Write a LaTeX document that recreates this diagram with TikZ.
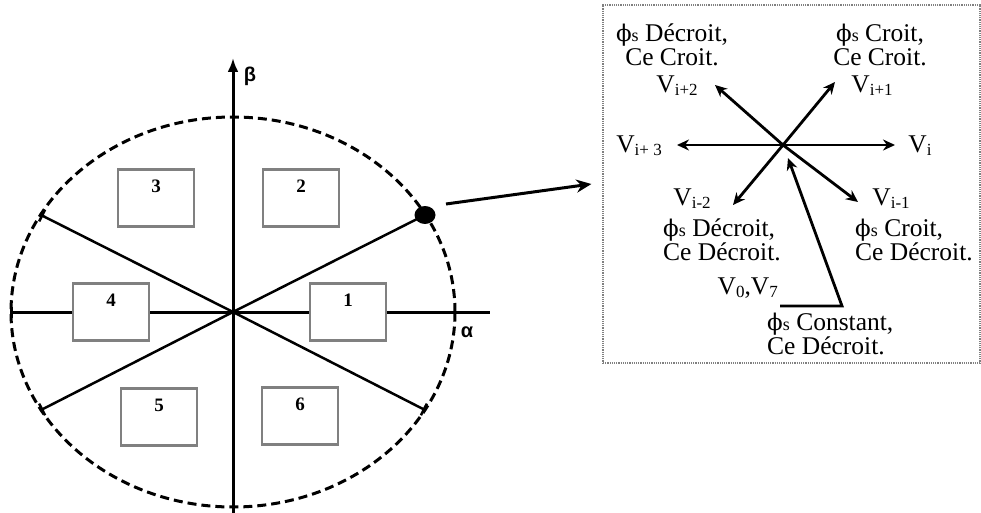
\documentclass[tikz,border=0pt]{standalone}
\usepackage{fontspec}
\setmainfont{Liberation Serif}
\newfontfamily\axisfont{Liberation Sans}
\newfontfamily\phifont{DejaVu Serif}
\usetikzlibrary{arrows.meta,shapes.geometric}
\newcommand{\Vsub}[1]{V\raisebox{-0.25ex}{\fontsize{17}{17}\selectfont #1}}
\newcommand{\phis}{{\phifont\fontsize{23}{23}\selectfont ϕ}{\fontsize{18}{18}\selectfont s}}

\begin{document}
\begin{tikzpicture}[x=1pt,y=-1pt,
    axis/.style={line width=3pt},
    sector/.style={draw=gray, line width=2.6pt, fill=white, minimum width=76pt, minimum height=57pt, inner sep=0pt},
    num/.style={font=\fontsize{19}{19}\selectfont\bfseries, inner sep=0pt},
    vec/.style={line width=2.8pt, -{Stealth[length=12pt,width=11pt]}},
    lbl/.style={font=\fontsize{25.5}{24}\selectfont, inner sep=0pt}]
    \useasboundingbox (0,0) rectangle (981,513);

    \coordinate (o) at (233,312);
    \coordinate (p1) at (425,215);
    \coordinate (p2) at (41,215);
    \coordinate (p3) at (41,410);
    \coordinate (p4) at (425,410);

    \draw[axis, {Bar[width=11pt]}-] (10,312) -- (490,312);
    \draw[axis, -{Latex[length=14pt,width=11pt]}] (233,513) -- (233,58);
    \node[font=\axisfont\bfseries\fontsize{20}{20}\selectfont] (beta) at (250,76) {β};
    \node[font=\axisfont\bfseries\fontsize{20}{20}\selectfont] (alpha) at (467,332) {α};

    \draw[line width=3pt, dash pattern=on 9pt off 5pt] (o) ellipse [x radius=222pt, y radius=195pt];

    \draw[line width=2.5pt] (o) -- (p1);
    \draw[line width=2.5pt, -{Bar[width=13pt]}] (o) -- (p2);
    \draw[line width=2.5pt, -{Bar[width=13pt]}] (o) -- (p3);
    \draw[line width=2.5pt, -{Bar[width=13pt]}] (o) -- (p4);

    \node[sector] (n1) at (348,312) {};
    \node[sector] (n2) at (301,198) {};
    \node[sector] (n3) at (156,198) {};
    \node[sector] (n4) at (111,312) {};
    \node[sector] (n5) at (159,417) {};
    \node[sector] (n6) at (300,416) {};
    \node[num] (t1) at ([yshift=-18pt]n1.north) {1};
    \node[num] (t2) at ([yshift=-18pt]n2.north) {2};
    \node[num] (t3) at ([yshift=-18pt]n3.north) {3};
    \node[num] (t4) at ([yshift=-18pt]n4.north) {4};
    \node[num] (t5) at ([yshift=-18pt]n5.north) {5};
    \node[num] (t6) at ([yshift=-18pt]n6.north) {6};

    \node[ellipse, fill=black, minimum width=21pt, minimum height=18pt, inner sep=0pt] (dot) at (p1) {};

    \node[draw=gray, densely dotted, line width=1.2pt, minimum width=377pt, minimum height=358pt, inner sep=0pt] (panel) at (791.5,184) {};
    \coordinate (a0) at (446,204);
    \draw[line width=3pt, -{Stealth[length=15pt,width=13pt]}] (a0) -- ([xshift=-11pt]panel.west);

    \coordinate (c) at (783,145);
    \coordinate (v0) at (895,145);
    \coordinate (v1) at (835,82);
    \coordinate (v2) at (715,85);
    \coordinate (v3) at (677,145);
    \coordinate (v4) at (733,205);
    \coordinate (v5) at (858,202);
    \draw[vec] (c) -- (v0);
    \draw[vec] (c) -- (v1);
    \draw[vec] (c) -- (v2);
    \draw[vec] (c) -- (v3);
    \draw[vec] (c) -- (v4);
    \draw[vec] (c) -- (v5);

    \node[lbl, align=center] (tl) at (672,45) {\phis\ Décroit,\\Ce Croit.};
    \node[lbl] (l2) at (677,86) {\Vsub{i+2}};
    \node[lbl, align=center] (tr) at (880,45) {\phis\ Croit,\\Ce Croit.};
    \node[lbl] (l1) at (872,86) {\Vsub{i+1}};
    \node[lbl] (l3) at (639,146) {\Vsub{i+ 3}};
    \node[lbl] (l0) at (920,146) {\Vsub{i}};
    \node[lbl] (l4) at (692,199) {\Vsub{i-2}};
    \node[lbl, align=left, anchor=west] (bl) at (663,240) {\phis\ Décroit,\\Ce Décroit.};
    \node[lbl] (l5) at (891,199) {\Vsub{i-1}};
    \node[lbl, align=left, anchor=west] (br) at (855,240) {\phis\ Croit,\\Ce Décroit.};
    \node[lbl, anchor=east] (z) at (778,288) {\Vsub{0},\Vsub{7}};
    \node[lbl, align=left, anchor=west] (bm) at (767,334) {\phis\ Constant,\\Ce Décroit.};

    \coordinate (k0) at (780,306);
    \coordinate (k1) at (842,306);
    \coordinate (k2) at (788,158);
    \draw[line width=2.8pt, -{Stealth[length=12pt,width=11pt]}] (k0) -- (k1) -- (k2);
\end{tikzpicture}
\end{document}
